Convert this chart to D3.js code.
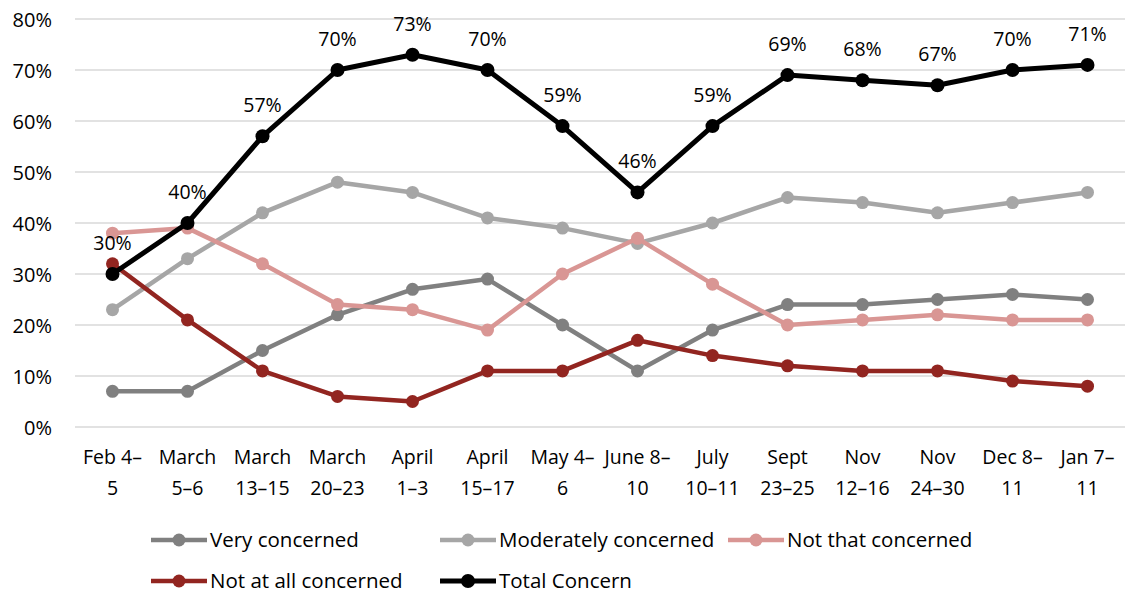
<!DOCTYPE html>
<html>
<head>
<meta charset="utf-8">
<script src="https://cdn.jsdelivr.net/npm/d3@7"></script>
<style>
  html, body { margin: 0; padding: 0; background: #fff; }
  svg text { font-family: "Open Sans", sans-serif; fill: #000; }
</style>
</head>
<body>
<svg id="chart" width="1125" height="595"></svg>
<script>
// Survey waves (two-line axis labels)
const periods = [
  ["Feb 4–", "5"], ["March", "5–6"], ["March", "13–15"], ["March", "20–23"],
  ["April", "1–3"], ["April", "15–17"], ["May 4–", "6"], ["June 8–", "10"],
  ["July", "10–11"], ["Sept", "23–25"], ["Nov", "12–16"], ["Nov", "24–30"],
  ["Dec 8–", "11"], ["Jan 7–", "11"]
];

const veryConcerned       = [7, 7, 15, 22, 27, 29, 20, 11, 19, 24, 24, 25, 26, 25];
const moderatelyConcerned = [23, 33, 42, 48, 46, 41, 39, 36, 40, 45, 44, 42, 44, 46];
const notThatConcerned    = [38, 39, 32, 24, 23, 19, 30, 37, 28, 20, 21, 22, 21, 21];
const notAtAllConcerned   = [32, 21, 11, 6, 5, 11, 11, 17, 14, 12, 11, 11, 9, 8];
const totalConcern        = [30, 40, 57, 70, 73, 70, 59, 46, 59, 69, 68, 67, 70, 71];

const yTicks = [0, 10, 20, 30, 40, 50, 60, 70, 80];

const series = [
  { name: "Very concerned",       values: veryConcerned,       color: "#808080", w: 4.5, r: 6.5 },
  { name: "Moderately concerned", values: moderatelyConcerned, color: "#a6a6a6", w: 4.5, r: 6.5 },
  { name: "Not that concerned",   values: notThatConcerned,    color: "#d99694", w: 4.5, r: 6.5 },
  { name: "Not at all concerned", values: notAtAllConcerned,   color: "#922520", w: 4.5, r: 6.5 },
  { name: "Total Concern",        values: totalConcern,        color: "#000000", w: 5,   r: 7 }
];

const svg = d3.select("#chart");
const plot = { left: 75, right: 1125, top: 19, bottom: 427 };

const x = d3.scaleBand()
  .domain(d3.range(periods.length))
  .range([plot.left, plot.right]);
const cx = i => x(i) + x.bandwidth() / 2;

const y = d3.scaleLinear().domain([0, 80]).range([plot.bottom, plot.top]);

// horizontal gridlines
svg.append("g")
  .selectAll("line")
  .data(yTicks)
  .join("line")
  .attr("x1", plot.left).attr("x2", plot.right)
  .attr("y1", d => y(d)).attr("y2", d => y(d))
  .attr("stroke", "#d9d9d9").attr("stroke-width", 1.5);

// y axis labels
const yAxis = d3.axisLeft(y).tickValues(yTicks).tickFormat(d => d + "%").tickSize(0).tickPadding(0);
svg.append("g")
  .attr("transform", `translate(52,0)`)
  .call(yAxis)
  .call(g => g.select(".domain").remove())
  .call(g => g.selectAll("text")
    .attr("font-family", "Open Sans, sans-serif")
    .attr("font-size", 20)
    .attr("fill", "#000")
    .attr("dy", "0.35em"));

// x axis labels (two lines each)
const xLab = svg.append("g");
periods.forEach((p, i) => {
  const t = xLab.append("text")
    .attr("x", cx(i))
    .attr("text-anchor", "middle")
    .attr("font-size", 19.5);
  t.append("tspan").attr("x", cx(i)).attr("y", 464).text(p[0]);
  t.append("tspan").attr("x", cx(i)).attr("y", 495).text(p[1]);
});

// series lines and markers
const line = d3.line().x((d, i) => cx(i)).y(d => y(d));
series.forEach(s => {
  const g = svg.append("g");
  g.append("path")
    .datum(s.values)
    .attr("d", line)
    .attr("fill", "none")
    .attr("stroke", s.color)
    .attr("stroke-width", s.w)
    .attr("stroke-linejoin", "round");
  g.selectAll("circle")
    .data(s.values)
    .join("circle")
    .attr("cx", (d, i) => cx(i))
    .attr("cy", d => y(d))
    .attr("r", s.r)
    .attr("fill", s.color);
});

// value labels for total concern
svg.append("g")
  .selectAll("text")
  .data(totalConcern)
  .join("text")
  .attr("x", (d, i) => cx(i))
  .attr("y", d => y(d) - 24)
  .attr("text-anchor", "middle")
  .attr("font-size", 19.5)
  .text(d => d + "%");

// legend
const legendPos = [
  { x: 151, y: 540 }, { x: 440, y: 540 }, { x: 728, y: 540 },
  { x: 151, y: 581 }, { x: 440, y: 581 }
];
series.forEach((s, i) => {
  const p = legendPos[i];
  const g = svg.append("g").attr("transform", `translate(${p.x},${p.y})`);
  g.append("line").attr("x1", 0).attr("x2", 56).attr("y1", 0).attr("y2", 0)
    .attr("stroke", s.color).attr("stroke-width", s.w);
  g.append("circle").attr("cx", 28).attr("cy", 0).attr("r", s.r).attr("fill", s.color);
  g.append("text").attr("x", 59).attr("y", 0).attr("dy", "0.35em")
    .attr("font-size", 20.5).text(s.name);
});
</script>
</body>
</html>
